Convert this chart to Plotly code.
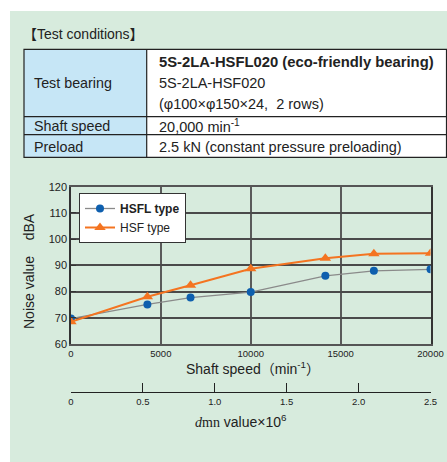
import plotly.graph_objects as go

# ---------------- data ----------------
speed = [0, 4250, 6650, 10000, 14150, 16850, 20000]
hsfl_noise = [69.7, 75.1, 77.7, 79.8, 86.0, 87.9, 88.5]
hsf_noise = [68.5, 78.0, 82.4, 88.7, 92.7, 94.4, 94.6]
series_names = ["<b>HSFL type</b>", "HSF type"]

y_ticks = [60, 70, 80, 90, 100, 110, 120]
x_ticks = [0, 5000, 10000, 15000, 20000]
x_tick_labels = ["0", "5000", "10000", "15000", "20000"]
dmn_ticks = [0, 0.5, 1.0, 1.5, 2.0, 2.5]
dmn_labels = ["0", "0.5", "1.0", "1.5", "2.0", "2.5"]

table_title = "【Test conditions】"
table_labels = ["Test bearing", "Shaft speed", "Preload"]
table_values = [
    ["<b>5S-2LA-HSFL020 (eco-friendly bearing)</b>", "5S-2LA-HSF020", "(φ100×φ150×24,  2 rows)"],
    ["20,000 min<sup>-1</sup>"],
    ["2.5 kN (constant pressure preloading)"],
]

W, H = 447, 462
FONT = "Liberation Sans, Arial, Noto Sans CJK JP, sans-serif"
GREEN = "#d7ebdd"
BLUE_CELL = "#c6e6f6"


def px(x):
    return x / W


def py(y):
    return 1 - y / H


fig = go.Figure()

fig.add_trace(go.Scatter(
    x=speed, y=hsfl_noise, name=series_names[0], mode="lines+markers",
    line=dict(color="#8a8a8a", width=1.3),
    marker=dict(color="#0e5fae", size=8, symbol="circle"),
))
fig.add_trace(go.Scatter(
    x=speed, y=hsf_noise, name=series_names[1], mode="lines+markers",
    line=dict(color="#f47421", width=2),
    marker=dict(color="#f47421", size=10, symbol="triangle-up"),
))
# invisible trace for the secondary dmn axis
fig.add_trace(go.Scatter(
    x=[0, 2.5], y=[0, 0], xaxis="x2", yaxis="y2", mode="markers",
    marker=dict(opacity=0), showlegend=False, hoverinfo="skip",
))

shapes = []
# green background panel
shapes.append(dict(type="rect", xref="paper", yref="paper", layer="below",
                   x0=px(10), x1=px(447), y0=py(462), y1=py(11),
                   fillcolor=GREEN, line=dict(width=0)))
# table
tx0, tx1, tdiv = 24, 446.5, 146.7
rows_y = [49.3, 116.7, 134.7, 157.3]
shapes.append(dict(type="rect", xref="paper", yref="paper",
                   x0=px(tx0), x1=px(tdiv), y0=py(rows_y[-1]), y1=py(rows_y[0]),
                   fillcolor=BLUE_CELL, line=dict(width=0)))
shapes.append(dict(type="rect", xref="paper", yref="paper",
                   x0=px(tdiv), x1=px(tx1), y0=py(rows_y[-1]), y1=py(rows_y[0]),
                   fillcolor="white", line=dict(width=0)))
shapes.append(dict(type="rect", xref="paper", yref="paper",
                   x0=px(tx0), x1=px(tx1), y0=py(rows_y[-1]), y1=py(rows_y[0]),
                   line=dict(color="#222", width=1.2)))
shapes.append(dict(type="line", xref="paper", yref="paper",
                   x0=px(tdiv), x1=px(tdiv), y0=py(rows_y[-1]), y1=py(rows_y[0]),
                   line=dict(color="#222", width=1.2)))
for yy in rows_y[1:-1]:
    shapes.append(dict(type="line", xref="paper", yref="paper",
                       x0=px(tx0), x1=px(tx1), y0=py(yy), y1=py(yy),
                       line=dict(color="#222", width=1.2)))

annotations = []


def text(x, y, s, size=14.5, xanchor="left", **kw):
    annotations.append(dict(x=px(x), y=py(y), xref="paper", yref="paper", text=s,
                            showarrow=False, xanchor=xanchor, yanchor="middle",
                            font=dict(family=FONT, size=size, color="#222"), **kw))


text(21, 34, table_title, size=14)
label_y = [83, 125.7, 146.7]
value_y = [[61.7, 83, 103.7], [125.7], [146.7]]
for lab, ly, vals, vys in zip(table_labels, label_y, table_values, value_y):
    text(32, ly, lab, size=14.3)
    for v, vy in zip(vals, vys):
        text(157, vy, v, size=14.8 if v.startswith("<b>") else 14.5)

# axis titles
text(29, 271, "Noise value\u00a0\u00a0\u00a0 dBA", size=14, xanchor="center", textangle=-90)
text(253, 368, "Shaft speed（min<sup>-1</sup>）", size=14, xanchor="center")
text(241, 421,
     "<span style='font-family:Liberation Serif, DejaVu Serif, serif'><i>d</i>mn</span> value×10<sup>6</sup>",
     size=14, xanchor="center")

fig.update_layout(
    width=W, height=H,
    margin=dict(l=0, r=0, t=0, b=0),
    paper_bgcolor="white",
    plot_bgcolor="white",
    font=dict(family=FONT, color="#222"),
    shapes=shapes,
    annotations=annotations,
    showlegend=True,
    legend=dict(x=px(79), y=py(193), xanchor="left", yanchor="top",
                bgcolor="white", bordercolor="#333", borderwidth=1,
                font=dict(family=FONT, size=12, color="#222"),
                itemwidth=30, tracegroupgap=0),
    xaxis=dict(domain=[px(71), px(430.5)], range=[0, 20000],
               tickvals=x_ticks, ticktext=x_tick_labels,
               showgrid=True, gridcolor="#5a5a5a", gridwidth=1.5,
               showline=True, linecolor="#555", linewidth=1.5, mirror=True,
               ticks="", zeroline=False, automargin=False,
               tickfont=dict(family=FONT, size=9.5, color="#222")),
    yaxis=dict(domain=[py(344), py(186.7)], range=[60, 120], tickvals=y_ticks,
               showgrid=True, gridcolor="#4a4a4a", gridwidth=1.5,
               showline=True, linecolor="#333", linewidth=1.5, mirror=True,
               ticks="inside", ticklen=5, tickcolor="#333", tickwidth=1.3,
               zeroline=False, automargin=False,
               tickfont=dict(family=FONT, size=11, color="#222")),
    xaxis2=dict(domain=[px(71), px(430.5)], anchor="y2", range=[0, 2.5],
                tickvals=dmn_ticks, ticktext=dmn_labels,
                showgrid=False, zeroline=False, showline=True,
                linecolor="#222", linewidth=1.3,
                ticks="inside", ticklen=9, tickcolor="#222", tickwidth=1.3,
                automargin=False,
                tickfont=dict(family=FONT, size=9.5, color="#222")),
    yaxis2=dict(domain=[py(392), py(380)], range=[0, 1], visible=False,
                fixedrange=True),
)

fig.write_html("out.html", config={"displayModeBar": False},
               post_script="document.body.style.margin='0';document.body.style.overflow='hidden';")
